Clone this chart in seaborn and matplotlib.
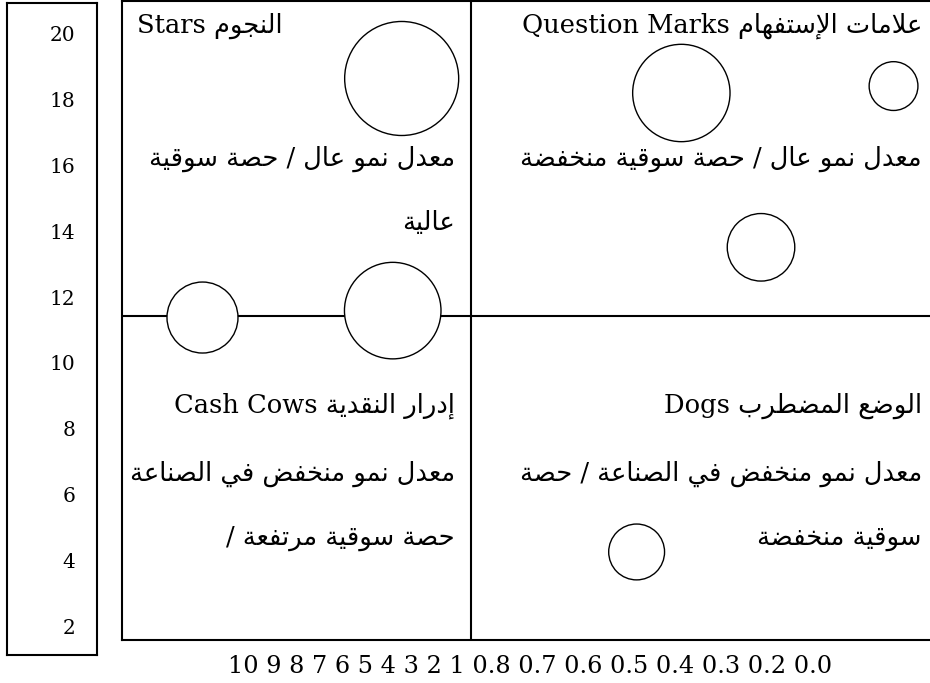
import matplotlib
matplotlib.use("Agg")
import matplotlib.pyplot as plt
import seaborn as sns
import pandas as pd

# ---- data -------------------------------------------------------------
y_ticks = [20, 18, 16, 14, 12, 10, 8, 6, 4, 2]
x_labels = ["10", "9", "8", "7", "6", "5", "4", "3", "2", "1",
            "0.8", "0.7", "0.6", "0.5", "0.4", "0.3", "0.2", "0.0"]

# bubbles (position on a 0-100 share scale, growth on the y scale, size value)
bubble_share = [34.4, 33.3, 9.9, 68.8, 94.9, 78.6, 63.3]
bubble_growth = [18.63, 11.59, 11.38, 18.19, 18.40, 13.51, 4.27]
bubble_value = [32.5, 23.3, 12.6, 23.7, 5.95, 11.4, 7.8]

split_share = 42.9
split_growth = 11.43

# quadrant texts (logical order)
stars_title = "Stars النجوم"
stars_body = ["معدل نمو عال / حصة سوقية", "عالية"]
qm_title = "Question Marks علامات الإستفهام"
qm_body = ["معدل نمو عال / حصة سوقية منخفضة"]
cows_title = "Cash Cows إدرار النقدية"
cows_body = ["معدل نمو منخفض في الصناعة", "/ حصة سوقية مرتفعة"]
dogs_title = "Dogs الوضع المضطرب"
dogs_body = ["معدل نمو منخفض في الصناعة / حصة", "سوقية منخفضة"]

# ---- minimal arabic shaping (matplotlib has no complex text layout) ---
FORMS = {}
code = 0xFE80
for cp in list(range(0x621, 0x63B)) + list(range(0x641, 0x64B)):
    ch = chr(cp)
    n = 1 if ch == "ء" else (2 if ch in "آأؤإاةدذرزوى" else 4)
    FORMS[ch] = [chr(code + k) for k in range(n)]
    code += n
LAM_ALEF = {"آ": ("\uFEF5", "\uFEF6"), "أ": ("\uFEF7", "\uFEF8"),
            "إ": ("\uFEF9", "\uFEFA"), "ا": ("\uFEFB", "\uFEFC")}


def shape_word(w):
    out, prev_joins, i = [], False, 0
    while i < len(w):
        ch = w[i]
        forms = FORMS.get(ch)
        if forms is None:
            out.append(ch)
            prev_joins = False
            i += 1
            continue
        if ch == "ل" and i + 1 < len(w) and w[i + 1] in LAM_ALEF:
            iso, fin = LAM_ALEF[w[i + 1]]
            out.append(fin if prev_joins else iso)
            prev_joins = False
            i += 2
            continue
        nxt = w[i + 1] if i + 1 < len(w) else ""
        joins_next = len(forms) == 4 and len(FORMS.get(nxt, "")) > 1
        joins_prev = prev_joins and len(forms) > 1
        if joins_prev and joins_next:
            out.append(forms[3])
        elif joins_prev:
            out.append(forms[1])
        elif joins_next:
            out.append(forms[2])
        else:
            out.append(forms[0])
        prev_joins = len(forms) == 4
        i += 1
    return "".join(out)


def visual(text):
    words = text.split(" ")
    kinds = []
    for w in words:
        if any("\u0600" <= c <= "\u06FF" for c in w):
            kinds.append("R")
        elif any(c.isascii() and c.isalnum() for c in w):
            kinds.append("L")
        else:
            kinds.append("N")
    for i, k in enumerate(kinds):
        if k == "N":
            before = next((kinds[j] for j in range(i - 1, -1, -1) if kinds[j] != "N"), "L")
            after = next((kinds[j] for j in range(i + 1, len(kinds)) if kinds[j] != "N"), "L")
            kinds[i] = "R" if before == after == "R" else "L"
    pieces, i = [], 0
    while i < len(words):
        if kinds[i] == "R":
            j = i
            while j < len(words) and kinds[j] == "R":
                j += 1
            pieces.append(" ".join(shape_word(w)[::-1] for w in reversed(words[i:j])))
            i = j
        else:
            pieces.append(words[i])
            i += 1
    return " ".join(pieces)


# ---- figure -----------------------------------------------------------
sns.set_style("white")
fam = ["DejaVu Serif", "DejaVu Sans"]
plt.rcParams["font.family"] = fam
plt.rcParams["text.color"] = "black"
plt.rcParams["axes.labelcolor"] = "black"
plt.rcParams["ytick.color"] = "black"

fig = plt.figure(figsize=(9.3, 6.83), dpi=100)
W, H = 930, 683

# left box with the growth scale
ax_y = fig.add_axes([7 / W, 1 - 655 / H, 90 / W, 652 / H])
ax_y.set_xlim(0, 1)
ax_y.set_ylim(1.14, 20.92)
ax_y.set_xticks([])
ax_y.set_yticks(y_ticks)
ax_y.set_yticklabels([str(t) for t in y_ticks], fontsize=14.5)
ax_y.tick_params(axis="y", length=0, pad=-49)
for s in ax_y.spines.values():
    s.set_visible(True)
    s.set_color("black")
    s.set_linewidth(1.5)

# main matrix
ax = fig.add_axes([122 / W, 1 - 640 / H, 813 / W, 639 / H])
ax.set_xlim(0, 100)
ax.set_ylim(1.60, 20.98)
for s in ax.spines.values():
    s.set_visible(True)
    s.set_color("black")
    s.set_linewidth(1.5)

ax.axvline(split_share, color="black", lw=1.5, zorder=1)
ax.axhline(split_growth, color="black", lw=1.5, zorder=1)

df = pd.DataFrame({"share": bubble_share, "growth": bubble_growth, "value": bubble_value})
sns.scatterplot(data=df, x="share", y="growth", size="value",
                sizes=(0, 207.36 * 40), size_norm=(0, 40),
                color="white", edgecolor="black", linewidth=1.0,
                legend=False, ax=ax, zorder=3)
ax.set_xlabel("")
ax.set_ylabel("")
ax.set_xticks([])
ax.set_yticks([])

# share scale written as one line under the matrix
ax.text(0.502, -0.0516, " ".join(x_labels), transform=ax.transAxes,
        ha="center", va="baseline", fontsize=17.3, family=fam, clip_on=False)

ft, fb = 18.5, 18.5
ax.text(1.85, 20.01, visual(stars_title), ha="left", va="baseline", fontsize=ft, family=fam, zorder=4)
for txt, yy in zip(stars_body, [15.98, 14.04]):
    ax.text(40.96, yy, visual(txt), ha="right", va="baseline", fontsize=fb, family=fam, zorder=4)

ax.text(98.4, 20.01, visual(qm_title), ha="right", va="baseline", fontsize=ft, family=fam, zorder=4)
for txt, yy in zip(qm_body, [15.98]):
    ax.text(98.4, yy, visual(txt), ha="right", va="baseline", fontsize=fb, family=fam, zorder=4)

ax.text(40.96, 8.49, visual(cows_title), ha="right", va="baseline", fontsize=ft, family=fam, zorder=4)
for txt, yy in zip(cows_body, [6.43, 4.49]):
    ax.text(40.96, yy, visual(txt), ha="right", va="baseline", fontsize=fb, family=fam, zorder=4)

ax.text(98.4, 8.49, visual(dogs_title), ha="right", va="baseline", fontsize=ft, family=fam, zorder=4)
for txt, yy in zip(dogs_body, [6.43, 4.49]):
    ax.text(98.4, yy, visual(txt), ha="right", va="baseline", fontsize=fb, family=fam, zorder=4)

fig.savefig("out.png", dpi=100, facecolor="white")
